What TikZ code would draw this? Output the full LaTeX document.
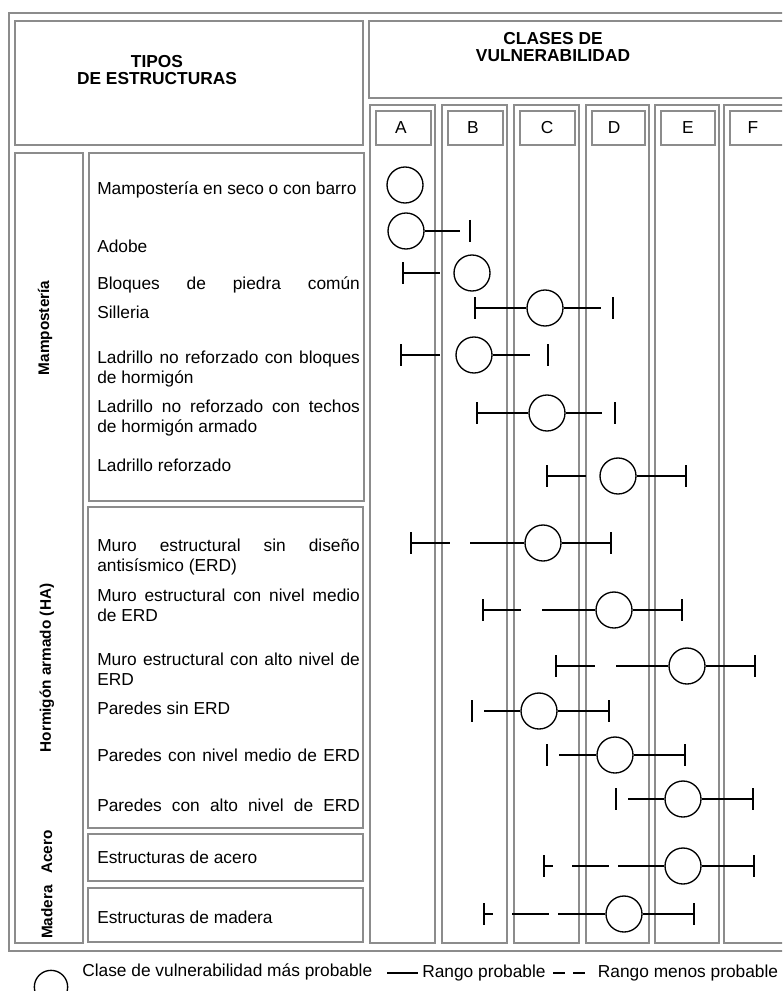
\documentclass[tikz,border=0pt]{standalone}
\usepackage{fontspec}
\setmainfont{Liberation Sans}
\usetikzlibrary{positioning}

\definecolor{framegray}{gray}{0.55}
\tikzset{
  frame/.style={draw=framegray, line width=0.8pt},
  rng/.style={line width=1pt},
  cls/.style={circle, draw, line width=1pt, minimum size=27pt, inner sep=0pt},
  item/.style={anchor=west, align=left, inner sep=0pt, font=\fontsize{13}{15}\selectfont},
  head/.style={align=center, inner sep=0pt, font=\fontsize{13}{12.75}\selectfont},
  grp/.style={rotate=90, inner sep=0pt, font=\fontsize{11.5}{13}\selectfont\bfseries},
  endbar/.pic={\draw[rng] (0,-11) -- (0,11);}
}
\newcommand{\spread}[1]{\makebox[197pt][s]{#1}}

\begin{document}
\begin{tikzpicture}[x=0.75pt, y=-0.75pt]
  \useasboundingbox (0,0) rectangle (782,991);
  \clip (0,0) rectangle (782,991);

  % frames
  \draw[frame] (9,13) rectangle (810,951);
  \draw[frame] (15,21) rectangle (363,145);
  \draw[frame] (369,21) rectangle (810,98);
  \draw[frame] (15,153) rectangle (83,943);
  \draw[frame] (89,153) rectangle (364,501);
  \draw[frame] (88,507) rectangle (363,828);
  \draw[frame] (88,834) rectangle (363,881);
  \draw[frame] (88,888) rectangle (363,942);

  \node[head, font=\fontsize{13}{12.75}\selectfont\bfseries] (tipos) at (157,70) {TIPOS\\DE ESTRUCTURAS};
  \node[head, font=\fontsize{13}{12.75}\selectfont\bfseries] (clases) at (553,47) {CLASES DE\\VULNERABILIDAD};

  % columns A-F
  \foreach \col/\xa/\xb/\xl in {A/370/435/401, B/442/507/473, C/514/579/547,
                                D/586/649/614, E/655/719/688, F/724/810/753} {
    \draw[frame] (\xa,105) rectangle (\xb,943);
    \draw[frame] (\xa+6,111) rectangle (\xb-4,145);
    \node[head] (col\col) at (\xl,128) {\col};
  }

  % groups
  \node[grp] (gMamp) at (45,328) {Mampostería};
  \node[grp] (gHA) at (47,668) {Hormigón armado (HA)};
  \node[grp] (gAcero) at (47,852) {Acero};
  \node[grp] (gMadera) at (47,912) {Madera};

  % structure types
  \node[item] (t1) at (97,190) {Mampostería en seco o con barro};
  \node[item] (t2) at (97,246) {Adobe};
  \node[item] (t3) at (97,285) {\spread{Bloques de piedra común}};
  \node[item] (t4) at (97,312) {Silleria};
  \node[item] (t5) at (97,369) {\spread{Ladrillo no reforzado con bloques}\\de hormigón};
  \node[item] (t6) at (97,418) {\spread{Ladrillo no reforzado con techos}\\de hormigón armado};
  \node[item] (t7) at (97,465) {Ladrillo reforzado};
  \node[item] (t8) at (97,557) {\spread{Muro estructural sin diseño}\\antisísmico (ERD)};
  \node[item] (t9) at (97,605) {\spread{Muro estructural con nivel medio}\\de ERD};
  \node[item] (t10) at (97,669) {\spread{Muro estructural con alto nivel de}\\ERD};
  \node[item] (t11) at (97,708) {Paredes sin ERD};
  \node[item] (t12) at (97,755) {\spread{Paredes con nivel medio de ERD}};
  \node[item] (t13) at (97,805) {\spread{Paredes con alto nivel de ERD}};
  \node[item] (t14) at (97,857) {Estructuras de acero};
  \node[item] (t15) at (97,917) {Estructuras de madera};

  % classes and ranges
  \node[cls] (c1) at (405,185) {};

  \node[cls] (c2) at (406,231) {};
  \coordinate (r2e) at (460,231);
  \coordinate (r2b) at (470,231);
  \draw[rng] (c2) -- (r2e);
  \pic at (r2b) {endbar};

  \coordinate (l3b) at (403,273);
  \coordinate (l3e) at (440,273);
  \node[cls] (c3) at (472,273) {};
  \draw[rng] (l3b) -- (l3e);
  \pic at (l3b) {endbar};

  \coordinate (l4b) at (475,308);
  \node[cls] (c4) at (545,308) {};
  \coordinate (r4e) at (601,308);
  \coordinate (r4b) at (613,308);
  \draw[rng] (l4b) -- (c4);
  \draw[rng] (c4) -- (r4e);
  \pic at (l4b) {endbar};
  \pic at (r4b) {endbar};

  \coordinate (l5b) at (401,355);
  \coordinate (l5e) at (440,355);
  \node[cls] (c5) at (474,355) {};
  \coordinate (r5e) at (530,355);
  \coordinate (r5b) at (548,355);
  \draw[rng] (l5b) -- (l5e);
  \draw[rng] (c5) -- (r5e);
  \pic at (l5b) {endbar};
  \pic at (r5b) {endbar};

  \coordinate (l6b) at (477,413);
  \node[cls] (c6) at (547,413) {};
  \coordinate (r6e) at (602,413);
  \coordinate (r6b) at (615,413);
  \draw[rng] (l6b) -- (c6);
  \draw[rng] (c6) -- (r6e);
  \pic at (l6b) {endbar};
  \pic at (r6b) {endbar};

  \coordinate (l7b) at (547,476);
  \coordinate (l7e) at (586,476);
  \node[cls] (c7) at (618,476) {};
  \coordinate (r7b) at (686,476);
  \draw[rng] (l7b) -- (l7e);
  \draw[rng] (c7) -- (r7b);
  \pic at (l7b) {endbar};
  \pic at (r7b) {endbar};

  \coordinate (l8b) at (411,543);
  \coordinate (l8e) at (450,543);
  \coordinate (l8s) at (470,543);
  \node[cls] (c8) at (543,543) {};
  \coordinate (r8b) at (611,543);
  \draw[rng] (l8b) -- (l8e);
  \draw[rng] (l8s) -- (c8);
  \draw[rng] (c8) -- (r8b);
  \pic at (l8b) {endbar};
  \pic at (r8b) {endbar};

  \coordinate (l9b) at (483,610);
  \coordinate (l9e) at (521,610);
  \coordinate (l9s) at (542,610);
  \node[cls] (c9) at (614,610) {};
  \coordinate (r9b) at (682,610);
  \draw[rng] (l9b) -- (l9e);
  \draw[rng] (l9s) -- (c9);
  \draw[rng] (c9) -- (r9b);
  \pic at (l9b) {endbar};
  \pic at (r9b) {endbar};

  \coordinate (l10b) at (556,666);
  \coordinate (l10e) at (595,666);
  \coordinate (l10s) at (616,666);
  \node[cls] (c10) at (687,666) {};
  \coordinate (r10b) at (755,666);
  \draw[rng] (l10b) -- (l10e);
  \draw[rng] (l10s) -- (c10);
  \draw[rng] (c10) -- (r10b);
  \pic at (l10b) {endbar};
  \pic at (r10b) {endbar};

  \coordinate (l11b) at (472,711);
  \coordinate (l11s) at (484,711);
  \node[cls] (c11) at (539,711) {};
  \coordinate (r11b) at (609,711);
  \draw[rng] (l11s) -- (c11);
  \draw[rng] (c11) -- (r11b);
  \pic at (l11b) {endbar};
  \pic at (r11b) {endbar};

  \coordinate (l12b) at (547,755);
  \coordinate (l12s) at (559,755);
  \node[cls] (c12) at (615,755) {};
  \coordinate (r12b) at (685,755);
  \draw[rng] (l12s) -- (c12);
  \draw[rng] (c12) -- (r12b);
  \pic at (l12b) {endbar};
  \pic at (r12b) {endbar};

  \coordinate (l13b) at (616,799);
  \coordinate (l13s) at (628,799);
  \node[cls] (c13) at (683,799) {};
  \coordinate (r13b) at (753,799);
  \draw[rng] (l13s) -- (c13);
  \draw[rng] (c13) -- (r13b);
  \pic at (l13b) {endbar};
  \pic at (r13b) {endbar};

  \coordinate (l14b) at (544,866);
  \coordinate (l14e) at (553,866);
  \coordinate (m14s) at (572,866);
  \coordinate (m14e) at (609,866);
  \coordinate (l14s) at (618,866);
  \node[cls] (c14) at (683,866) {};
  \coordinate (r14b) at (754,866);
  \draw[rng] (l14b) -- (l14e);
  \draw[rng] (m14s) -- (m14e);
  \draw[rng] (l14s) -- (c14);
  \draw[rng] (c14) -- (r14b);
  \pic at (l14b) {endbar};
  \pic at (r14b) {endbar};

  \coordinate (l15b) at (484,914);
  \coordinate (l15e) at (493,914);
  \coordinate (m15s) at (512,914);
  \coordinate (m15e) at (549,914);
  \coordinate (l15s) at (558,914);
  \node[cls] (c15) at (624,914) {};
  \coordinate (r15b) at (694,914);
  \draw[rng] (l15b) -- (l15e);
  \draw[rng] (m15s) -- (m15e);
  \draw[rng] (l15s) -- (c15);
  \draw[rng] (c15) -- (r15b);
  \pic at (l15b) {endbar};
  \pic at (r15b) {endbar};

  % legend
  \node[cls, minimum size=25pt] (lgc) at (51,987) {};
  \node[item] (lg1) at (82,972) {Clase de vulnerabilidad más probable};
  \coordinate (lgs1) at (387,973);
  \coordinate (lgs2) at (418,973);
  \draw[rng] (lgs1) -- (lgs2);
  \node[item, right=3pt of lgs2] (lg2) {Rango probable};
  \coordinate (lgd1) at (553,973);
  \coordinate (lgd2) at (565,973);
  \coordinate (lgd3) at (573,973);
  \coordinate (lgd4) at (585,973);
  \draw[rng] (lgd1) -- (lgd2);
  \draw[rng] (lgd3) -- (lgd4);
  \node[item, right=9.5pt of lgd4] (lg3) {Rango menos probable};
\end{tikzpicture}
\end{document}
